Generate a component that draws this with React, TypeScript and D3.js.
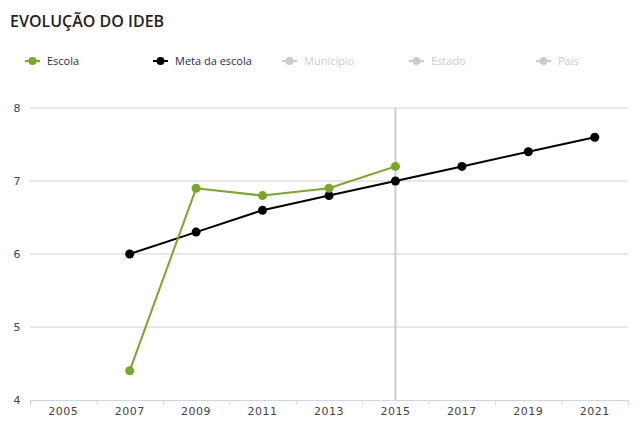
import React from "react";
import * as d3 from "d3";

const years = ["2005", "2007", "2009", "2011", "2013", "2015", "2017", "2019", "2021"];
const escolaYears = ["2007", "2009", "2011", "2013", "2015"];
const escolaValues = [4.4, 6.9, 6.8, 6.9, 7.2];
const metaYears = ["2007", "2009", "2011", "2013", "2015", "2017", "2019", "2021"];
const metaValues = [6.0, 6.3, 6.6, 6.8, 7.0, 7.2, 7.4, 7.6];
const yTicks = [4, 5, 6, 7, 8];
const legendItems = [
  { label: "Escola", color: "#7aa62b", text: "#1f2d4d", active: true },
  { label: "Meta da escola", color: "#000000", text: "#1f2d4d", active: true },
  { label: "Município", color: "#cccccc", text: "#cccccc", active: false },
  { label: "Estado", color: "#cccccc", text: "#cccccc", active: false },
  { label: "País", color: "#cccccc", text: "#cccccc", active: false },
];

export default function App() {
  const W = 640, H = 427;
  const x = d3.scaleBand().domain(years).range([30, 628]);
  const y = d3.scaleLinear().domain([4, 8]).range([400, 108]);
  const cx = (yr: string) => (x(yr) as number) + x.bandwidth() / 2;
  const line = d3.line<[string, number]>().x(d => cx(d[0])).y(d => y(d[1]));
  const escola: [string, number][] = escolaYears.map((yr, i) => [yr, escolaValues[i]]);
  const meta: [string, number][] = metaYears.map((yr, i) => [yr, metaValues[i]]);
  const font = "'DejaVu Sans', Verdana, sans-serif";
  const legendFont = "'Open Sans', sans-serif";
  const legendX = [25, 153, 282, 409, 536];
  const tickPos = years.map(yr => x(yr) as number).concat([628]);

  return (
    <svg width={W} height={H} style={{ position: "absolute", left: 0, top: 0, background: "#fff" }}>
      <text x={10} y={27} fontFamily="'Open Sans', sans-serif" fontWeight={600} fontSize={16} fill="#222">EVOLUÇÃO DO IDEB</text>
      {legendItems.map((it, i) => (
        <g key={it.label} transform={`translate(${legendX[i]},61)`}>
          <line x1={0} x2={15} y1={0} y2={0} stroke={it.color} strokeWidth={2} />
          <circle cx={7.5} cy={0} r={4} fill={it.color} />
          <text x={22} y={4} fontFamily={legendFont} fontSize={11} fill={it.text}>{it.label}</text>
        </g>
      ))}
      {yTicks.filter(t => t > 4).map(t => (
        <line key={t} x1={30} x2={628} y1={y(t)} y2={y(t)} stroke="#d0d0d0" strokeWidth={1} />
      ))}
      {yTicks.map(t => (
        <text key={t} x={17} y={y(t) + 4} textAnchor="middle" fontFamily={font} fontSize={11} fill="#444">{t}</text>
      ))}
      <line x1={cx("2015")} x2={cx("2015")} y1={108} y2={400} stroke="#cccccc" strokeWidth={2} />
      <line x1={30} x2={628} y1={400.5} y2={400.5} stroke="#ccd6eb" strokeWidth={1} />
      {tickPos.map((p, i) => (
        <line key={i} x1={p + 0.5} x2={p + 0.5} y1={400} y2={405} stroke="#ccd6eb" strokeWidth={1} />
      ))}
      {years.map(yr => (
        <text key={yr} x={cx(yr)} y={415} textAnchor="middle" fontFamily={font} fontSize={11} fill="#444" letterSpacing={0.5}>{yr}</text>
      ))}
      <path d={line(meta) || ""} fill="none" stroke="#000" strokeWidth={2} />
      <path d={line(escola) || ""} fill="none" stroke="#7aa62b" strokeWidth={2} />
      {meta.map(d => <circle key={"m" + d[0]} cx={cx(d[0])} cy={y(d[1])} r={4.5} fill="#000" />)}
      {escola.map(d => <circle key={"e" + d[0]} cx={cx(d[0])} cy={y(d[1])} r={4.5} fill="#7aa62b" />)}
    </svg>
  );
}
